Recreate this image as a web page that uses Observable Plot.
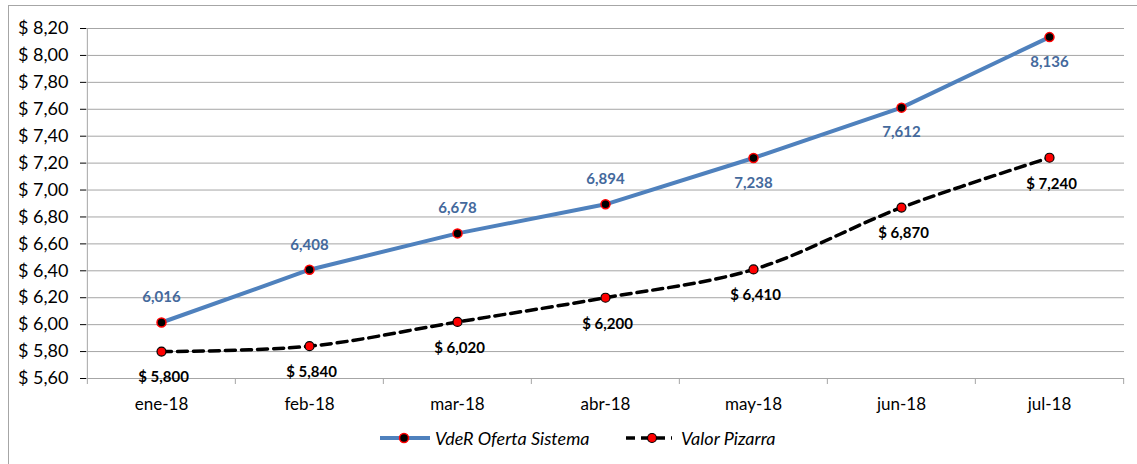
<!DOCTYPE html>
<html><head><meta charset="utf-8">
<script src="https://cdn.jsdelivr.net/npm/d3@7"></script>
<script src="https://cdn.jsdelivr.net/npm/@observablehq/plot@0.6"></script>
<style>
body{margin:0;background:#fff;font-family:Lato,"Open Sans",sans-serif;}
#wrap{position:relative;width:1137px;height:464px;overflow:hidden;}
#border{position:absolute;left:8px;top:5px;width:1200px;height:500px;border:1px solid #a6a6a6;box-sizing:border-box;}
#chart{position:absolute;left:0;top:0;}
#legend{position:absolute;left:0;top:424px;width:1137px;height:28px;}
.li{position:absolute;top:0;height:28px;display:flex;align-items:center;font-style:italic;font-size:18px;color:#000;}
</style></head>
<body><div id="wrap"><div id="border"></div><div id="chart"></div><div id="legend"></div></div>
<script>
const months = ["ene-18","feb-18","mar-18","abr-18","may-18","jun-18","jul-18"];
const vderOferta = [6.016, 6.408, 6.678, 6.894, 7.238, 7.612, 8.136];
const valorPizarra = [5.800, 5.840, 6.020, 6.200, 6.410, 6.870, 7.240];
const yTicks = [5.6,5.8,6.0,6.2,6.4,6.6,6.8,7.0,7.2,7.4,7.6,7.8,8.0,8.2];
const seriesNames = ["VdeR Oferta Sistema","Valor Pizarra"];

const W = 1137, ML = 86, MR = 13;
const step = (W - ML - MR) / months.length;
const fmtY = d => "$ " + d.toFixed(2).replace(".", ",");
const fmtL = d => d.toFixed(3).replace(".", ",");
const blue = months.map((m,i)=>({m, v: vderOferta[i], i}));
const black = months.map((m,i)=>({m, v: valorPizarra[i], i}));
const gridC = "#a6a6a6";
const blueC = "#4f81bd", blueText = "#44699c";

const chart = Plot.plot({
  width: W, height: 418, marginLeft: ML, marginRight: MR, marginTop: 28, marginBottom: 40,
  style: {fontFamily: "Lato, 'Open Sans', sans-serif", fontSize: "17px", color: "#000", background: "transparent", overflow: "visible"},
  x: {type: "point", domain: months, padding: 0.5, label: null, tickSize: 0, tickPadding: 19},
  y: {domain: [5.6, 8.2], ticks: yTicks, tickFormat: fmtY, label: null, tickSize: 6, tickPadding: 12},
  marks: [
    Plot.ruleY(yTicks, {stroke: gridC, strokeWidth: 1}),
    Plot.ruleX([months[0]], {x: d => d, y1: 5.6, y2: 8.2, dx: -step/2, stroke: gridC}),
    Plot.ruleX(months, {x: d => d, y1: 5.6, y2: 5.6, dx: -step/2, insetBottom: -6, stroke: gridC}),
    Plot.ruleX([months[months.length-1]], {x: d => d, y1: 5.6, y2: 5.6, dx: step/2, insetBottom: -6, stroke: gridC}),
    Plot.line(blue, {x: "m", y: "v", stroke: blueC, strokeWidth: 4}),
    Plot.line(black, {x: "m", y: "v", stroke: "#000", strokeWidth: 3.5, strokeDasharray: "10,6", curve: "catmull-rom"}),
    Plot.dot(blue, {x: "m", y: "v", r: 4.5, fill: "#000", stroke: "#ff0000", strokeWidth: 1.5}),
    Plot.dot(black, {x: "m", y: "v", r: 4.5, fill: "#ff0000", stroke: "#000", strokeWidth: 1.2}),
    Plot.text(blue.filter(d => d.i < 4), {x: "m", y: "v", text: d => fmtL(d.v), dy: -25, fill: blueText, fontWeight: "bold", fontSize: 15}),
    Plot.text(blue.filter(d => d.i >= 4), {x: "m", y: "v", text: d => fmtL(d.v), dy: 25, fill: blueText, fontWeight: "bold", fontSize: 15}),
    Plot.text(black, {x: "m", y: "v", text: d => "$ " + fmtL(d.v), dy: 26, dx: 2, fill: "#000", fontWeight: "bold", fontSize: 15})
  ]
});
d3.select(chart).selectAll('g[aria-label="y-axis tick label"]').attr("font-size", 18);
document.getElementById("chart").appendChild(chart);

const legend = document.getElementById("legend");
legend.innerHTML =
  `<div class="li" style="left:380px"><svg width="50" height="14" style="margin-right:5px"><line x1="0" y1="7" x2="50" y2="7" stroke="${blueC}" stroke-width="4"/><circle cx="24" cy="7" r="4.5" fill="#000" stroke="#ff0000" stroke-width="1.5"/></svg>${seriesNames[0]}</div>` +
  `<div class="li" style="left:625px"><svg width="48" height="14" style="margin-right:8px"><line x1="1" y1="7" x2="47" y2="7" stroke="#000" stroke-width="3.5" stroke-dasharray="9,6"/><circle cx="27" cy="7" r="4.5" fill="#ff0000" stroke="#000" stroke-width="1.2"/></svg>${seriesNames[1]}</div>`;
</script></body></html>
